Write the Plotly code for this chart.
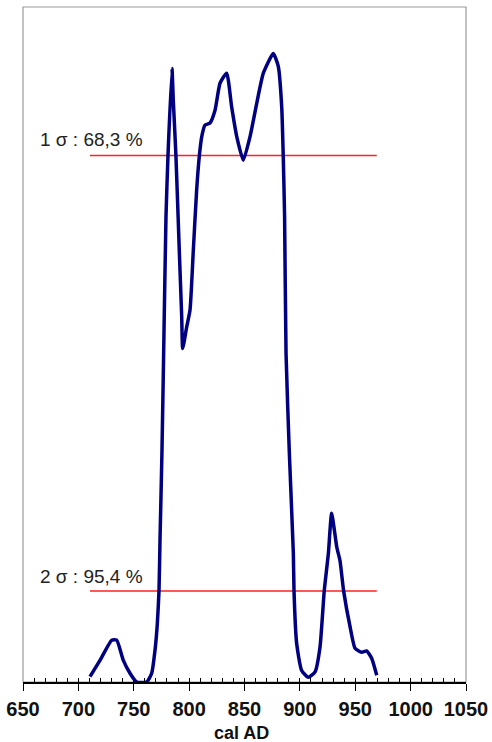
import plotly.graph_objects as go

# Calibrated date distribution (relative probability)
years = [710.5, 719.5, 730.1, 734.6, 740.6, 746.6, 752.7, 761.7, 766.2, 769.2,
         771.3, 772.8, 773.7, 775.5, 777.3, 779.1, 780.9, 784.5, 785.7, 788.1,
         791.1, 793.3, 794.2, 797.8, 800.8, 803.8, 806.8, 809.2, 811.4, 814.3,
         818.8, 823.4, 827.9, 833.9, 838.4, 843.0, 848.9, 855.0, 861.0, 867.0,
         876.0, 880.5, 883.6, 885.0, 886.2, 887.5, 890.5, 894.1, 894.7, 897.1,
         901.6, 907.6, 913.7, 918.2, 922.0, 925.7, 928.7, 933.3, 936.2, 939.5,
         945.3, 949.8, 955.8, 960.3, 964.9, 969.4]
prob = [0.8, 3.2, 6.2, 6.2, 3.2, 1.3, 0.0, 0.0, 1.3, 4.7,
        8.7, 13.5, 21.0, 34.3, 51.7, 68.9, 77.9, 90.9, 86.2, 77.9,
        64.0, 54.1, 49.4, 52.6, 55.1, 64.0, 72.9, 77.9, 80.8, 82.5,
        82.8, 84.7, 88.7, 90.2, 85.2, 80.8, 77.3, 80.8, 85.7, 90.2,
        93.1, 91.2, 85.2, 77.8, 69.0, 48.7, 33.9, 19.1, 13.5, 5.7,
        1.7, 0.7, 1.5, 5.2, 13.5, 19.0, 25.0, 20.0, 18.0, 13.5,
        8.2, 5.0, 4.4, 4.6, 3.5, 1.0]

# Sigma levels
sigma_labels = ["1 σ : 68,3 %", "2 σ : 95,4 %"]
sigma_levels = [78.0, 13.5]
sigma_label_y = [80.3, 15.7]
line_range = [710.5, 969.4]

tick_vals = [650, 700, 750, 800, 850, 900, 950, 1000, 1050]
tick_text = [str(v) for v in tick_vals]
x_title = "cal AD"

fig = go.Figure()

for lvl in sigma_levels:
    fig.add_trace(go.Scatter(x=line_range, y=[lvl, lvl], mode="lines",
                             line=dict(color="#ff2020", width=1.5),
                             showlegend=False, hoverinfo="skip", xaxis="x", yaxis="y"))

fig.add_trace(go.Scatter(x=years, y=prob, mode="lines",
                         line=dict(color="#000080", width=3.5, shape="spline", smoothing=0.5),
                         showlegend=False, xaxis="x2", yaxis="y"))

for lab, ly in zip(sigma_labels, sigma_label_y):
    fig.add_annotation(x=663.3, y=ly, xref="x", yref="y", text=lab, showarrow=False,
                       xanchor="left", yanchor="middle",
                       font=dict(family="Liberation Sans, Arial", size=19, color="#222"))

fig.add_annotation(x=0.494, y=-0.076, xref="paper", yref="paper", text=x_title,
                   showarrow=False, xanchor="center", yanchor="middle",
                   font=dict(family="Liberation Sans, Arial", size=18, color="#111", weight="bold"))

fig.add_shape(type="rect", xref="paper", yref="paper", x0=0, x1=1, y0=0, y1=1,
              line=dict(color="#9a9a9a", width=1.2), layer="below")

fig.update_layout(
    width=492, height=742,
    margin=dict(l=23, r=26, t=7, b=60, autoexpand=False),
    paper_bgcolor="white", plot_bgcolor="white",
    xaxis=dict(range=[650, 1050], tickmode="array", tickvals=tick_vals, ticktext=tick_text,
               ticks="outside", ticklen=7, tickwidth=1.3, tickcolor="black",
               showline=True, linecolor="black", linewidth=1.5,
               showgrid=False, zeroline=False, automargin=False,
               ticklabeloverflow="allow", ticklabelstandoff=1,
               tickfont=dict(family="Liberation Sans, Arial", size=20, color="#111", weight="bold")),
    xaxis2=dict(range=[650, 1050], overlaying="x", anchor="y", side="bottom",
                tickmode="linear", tick0=650, dtick=10, ticks="inside", ticklen=4,
                tickwidth=1.3, tickcolor="black", showticklabels=False,
                showline=False, showgrid=False, zeroline=False),
    yaxis=dict(range=[0, 100], showticklabels=False, ticks="", showgrid=False,
               zeroline=False, showline=False, automargin=False),
)

fig.write_html("out.html", config={"displayModeBar": False},
               post_script="document.body.style.margin='0';document.body.style.overflow='hidden';")
